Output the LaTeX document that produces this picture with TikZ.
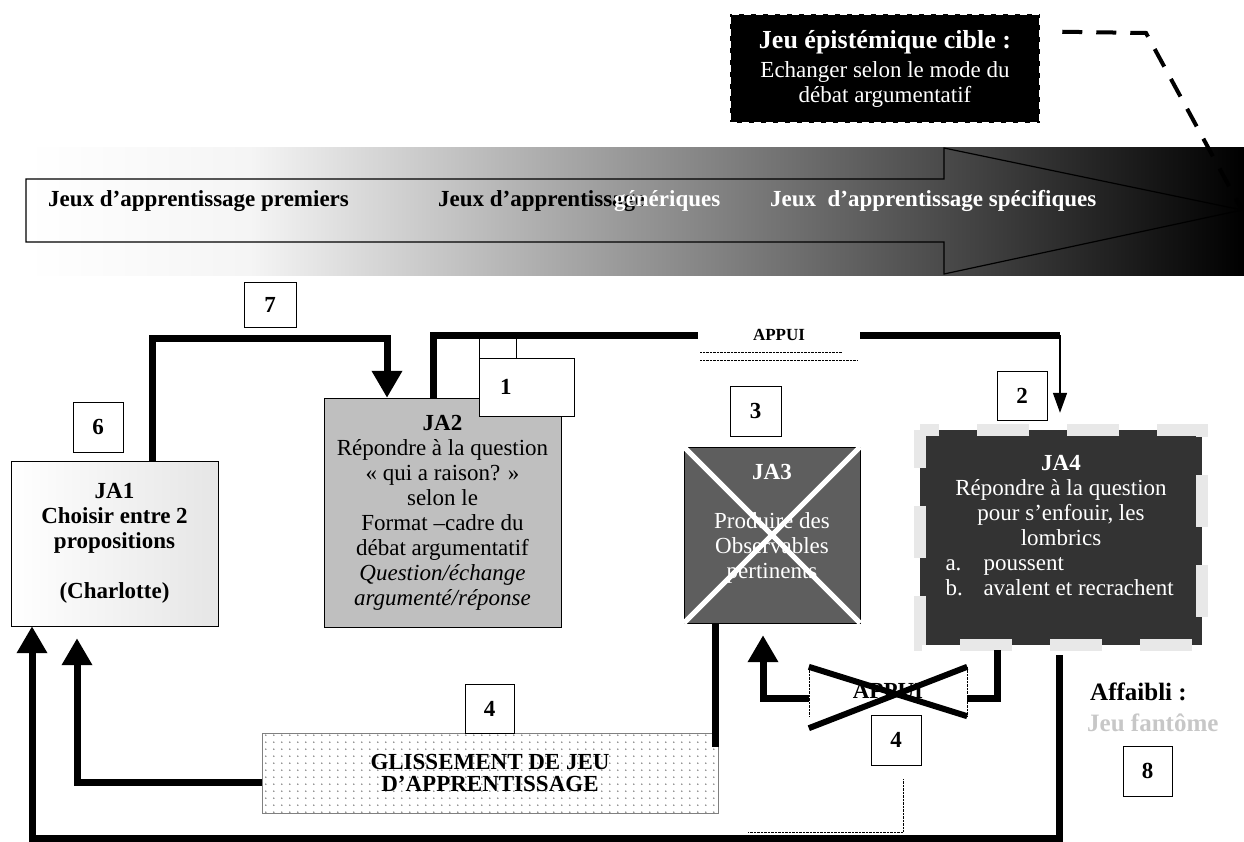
\documentclass[tikz,border=0pt]{standalone}
\usepackage{fontspec}
\setmainfont{Liberation Serif}
\usetikzlibrary{arrows.meta,patterns}
\pgfdeclarepatternformonly{sparsedots}{\pgfpointorigin}{\pgfpoint{8pt}{7pt}}{\pgfpoint{8pt}{7pt}}{\pgfpathcircle{\pgfpoint{2pt}{2pt}}{0.9pt}\pgfusepath{fill}}
\newcommand{\jafont}{\fontsize{23}{25}\selectfont}
\newcommand{\appuifont}{\fontsize{17}{20}\selectfont}

\begin{document}
\begin{tikzpicture}[x=1pt,y=-1pt,every node/.style={font=\jafont}]
\useasboundingbox (0,0) rectangle (1244,842);

%style for learning game boxes
\tikzstyle{jabox} = [rectangle, draw=black, align=center, inner sep=0pt]

%style for numbered boxes
\tikzstyle{numbox} = [rectangle, draw=black, fill=white, font=\jafont\bfseries, minimum width=50pt, minimum height=50pt, inner sep=0pt]

%style for texts on the big arrow
\tikzstyle{bandtxt} = [anchor=west, inner sep=0pt, font=\jafont\bfseries]

%style for heavy lines
\tikzstyle{heavy} = [line width=7pt]
\tikzstyle{heavyarrow} = [line width=7pt, -{Triangle[width=29pt,length=27pt]}]

%big arrow from first to specific games
\shade[left color=white, right color=black!4] (26,148) rectangle (250,275);
\shade[left color=black!4, right color=black] (250,148) rectangle (1244,275);
\draw[line width=1.2pt] (26,179) -- (944,179) -- (944,148) -- (1242,210) -- (944,274) -- (944,242) -- (26,242) -- cycle;
\node[bandtxt] (premiers) at (48,201) {Jeux d’apprentissage premiers};
\node[bandtxt] (generiques) at (438,201) {Jeux d’apprentissage};
\node[bandtxt, text=white] (generiques2) at (614,201) {génériques};
\node[bandtxt, text=white] (specifiques) at (770,201) {Jeux~~d’apprentissage spécifiques};
\coordinate (tip) at (1242,210);
\coordinate (bend) at (1146,33);

%place nodes
\node[jabox, fill=black, draw=white, dash pattern=on 7pt off 5pt, line width=2.5pt, text=white, minimum width=310pt, minimum height=109pt] (target) at (885,68.5) {{\fontsize{26}{28}\selectfont\bfseries Jeu épistémique cible :}\\[4pt]Echanger selon le mode du\\débat argumentatif};

\node[jabox, left color=white, right color=black!10, minimum width=207pt, minimum height=165pt, font=\jafont\bfseries] (ja1) at (114.5,543.5) {JA1\\Choisir entre 2\\propositions\\[25pt](Charlotte)};
\node[jabox, fill=black!25, minimum width=237pt, minimum height=229pt] (ja2) at (442.5,512.5) {\textbf{JA2}\\Répondre à la question\\« qui a raison? »\\selon le\\Format –cadre du\\débat argumentatif\\\textit{Question/échange}\\\textit{argumenté/réponse}};
\node[jabox, fill=black!63, text=white, minimum width=176pt, minimum height=176pt] (ja3) at (772,535) {\textbf{JA3}\\[24pt]Produire des\\Observables\\pertinents\\[2pt]\mbox{}};
\node[jabox, fill=black!80, draw=none, text=white, minimum width=282pt, minimum height=215pt] (ja4) at (1061,537.5) {\textbf{JA4}\\Répondre à la question\\pour s’enfouir, les\\lombrics\\\makebox[231pt][l]{\makebox[38pt][l]{a.}poussent}\\\makebox[231pt][l]{\makebox[38pt][l]{b.}avalent et recrachent}\\\mbox{}};
\draw[black!9, line width=12pt, dash pattern=on 52pt off 38pt, dash phase=14pt] (ja4.north west) -- (ja4.south west) -- (ja4.south east) -- (ja4.north east) -- cycle;
\node[jabox, draw=black!50, pattern=sparsedots, pattern color=black!55, minimum width=456pt, minimum height=80pt, font=\fontsize{23}{22}\selectfont\bfseries] (glis) at (490,773) {GLISSEMENT DE JEU\\D’APPRENTISSAGE};

\node[font=\appuifont\bfseries, minimum width=162pt, minimum height=14pt, inner sep=0pt] (appui) at (779,335) {APPUI};
\node[font=\jafont\bfseries, minimum width=158pt, minimum height=49pt, inner sep=0pt] (appuix) at (888,691.5) {APPUI};

\node[numbox, minimum width=52pt, minimum height=45pt] (n7) at (270,304.5) {7};
\node[numbox] (n6) at (98,427) {6};
\node[numbox, minimum width=95pt, minimum height=58pt, text width=53pt, inner xsep=21pt, align=left] (n1) at (526.5,387) {1};
\node[numbox, minimum width=51pt] (n3) at (755.5,411) {3};
\node[numbox, minimum height=49pt] (n2) at (1022,395.5) {2};
\node[numbox, minimum width=49pt, minimum height=49pt] (n4a) at (489.5,708.5) {4};
\node[numbox] (n4b) at (896,740) {4};
\node[numbox, minimum width=49pt] (n8) at (1147.5,771) {8};

\node[anchor=west, inner sep=0pt, font=\fontsize{25}{27}\selectfont\bfseries] (affaibli) at (1090,692) {Affaibli :};
\node[anchor=west, inner sep=0pt, text=black!22, font=\fontsize{25}{27}\selectfont\bfseries] (fantome) at (1087,723) {Jeu fantôme};

\coordinate (turn) at (1060,335);
\coordinate (g3) at (715,747);
\coordinate (bl) at (32,838);
\coordinate (dl) at (748,832);

% crosses over JA3 and the weak APPUI
\draw[white, line width=5pt] (ja3.north west) -- (ja3.south east);
\draw[white, line width=5pt] (ja3.north east) -- (ja3.south west);
\draw[densely dotted, thin] (appuix.north west) -- (appuix.south west);
\draw[densely dotted, thin] (appuix.north east) -- (appuix.south east);
\draw[line width=6pt] (appuix.north west) -- (appuix.south east);
\draw[line width=6pt] ([yshift=-12pt]appuix.south west) -- (appuix.north east);

% dotted lines under APPUI
\draw[densely dotted, thin] (700,352) -- (842,352);
\draw[densely dotted, thin] (700,360) -- (858,360);
\draw (n1.north west) rectangle ++(37,-20);

%connect nodes with lines
\draw[heavyarrow] ([xshift=37.5pt]ja1.north) -- ++(0,-122) -| ([xshift=-55.5pt]ja2.north);
\draw[heavy] ([xshift=-9.5pt]ja2.north) |- (appui.west);
\draw[heavy] (appui.east) -- (turn);
\draw[line width=1.5pt, -{Triangle[width=14pt,length=20pt]}, shorten >=17pt] (turn) -- (turn |- ja4.north);
\draw[heavy] ([xshift=-57pt]ja3.south) -- (g3);
\draw[heavy, shorten <=5pt] ([xshift=-64pt]ja4.south) |- ([yshift=-6.5pt]appuix.east);
\draw[heavyarrow, shorten >=12pt] ([yshift=-6.5pt]appuix.west) -| ([xshift=-9pt]ja3.south);
\draw[heavyarrow, shorten <=10pt] ([xshift=-2pt]ja4.south) |- (bl) -- ([xshift=-82.5pt]ja1.south);
\draw[heavyarrow, shorten >=12pt] ([yshift=-9pt]glis.west) -| ([xshift=-37.5pt]ja1.south);
\draw[densely dotted, thin] ([xshift=7pt,yshift=-14pt]n4b.south) |- (dl);

% dashed link from the target game to the arrow tip
\draw[line width=4pt, dash pattern=on 20pt off 14pt] ([xshift=21pt,yshift=-19pt]target.north east) -- (bend) -- (tip);
\end{tikzpicture}
\end{document}
